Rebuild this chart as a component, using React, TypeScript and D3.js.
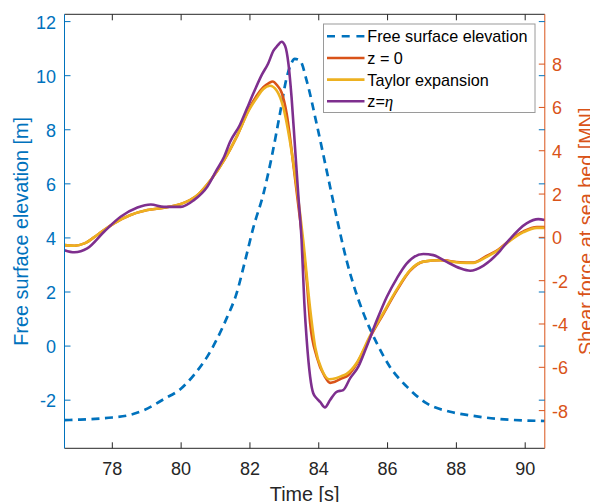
import React from "react";
import * as d3 from "d3";

// ---------- data ----------
const etaTime = [76.61, 77.0, 77.5, 78.0, 78.5, 78.92, 79.5, 80.0, 80.37, 80.76, 81.05, 81.34, 81.6, 81.86, 82.1, 82.39, 82.63, 82.87, 83.07, 83.2, 83.3, 83.46, 83.65, 83.94, 84.23, 84.52, 84.81, 85.0, 85.3, 85.69, 86.07, 86.56, 87.14, 87.82, 88.49, 89.27, 90.0, 90.57];
const etaValue = [-2.74, -2.72, -2.69, -2.64, -2.55, -2.37, -1.96, -1.57, -1.07, -0.39, 0.28, 1.08, 1.9, 3.16, 4.39, 5.62, 6.98, 8.58, 9.94, 10.45, 10.62, 10.55, 9.81, 8.21, 6.49, 4.76, 3.16, 2.31, 1.21, 0.1, -0.77, -1.5, -2.12, -2.43, -2.58, -2.7, -2.75, -2.77];

const z0Time = [76.61, 76.9, 77.19, 77.56, 78.05, 78.53, 79.02, 79.5, 79.99, 80.47, 80.86, 81.25, 81.63, 81.98, 82.2, 82.39, 82.55, 82.66, 82.8, 82.92, 83.07, 83.26, 83.46, 83.55, 83.65, 83.75, 83.94, 84.18, 84.33, 84.47, 84.67, 84.85, 85.1, 85.49, 85.88, 86.27, 86.65, 87.04, 87.53, 88.11, 88.49, 88.88, 89.27, 89.46, 89.95, 90.34, 90.57];
const z0Value = [-0.36, -0.39, -0.28, 0.11, 0.65, 1.03, 1.26, 1.37, 1.54, 1.95, 2.65, 3.57, 4.7, 5.95, 6.55, 6.93, 7.12, 7.2, 7.0, 6.69, 5.69, 3.38, 0.77, -0.5, -2.0, -3.97, -5.51, -6.44, -6.72, -6.67, -6.51, -6.38, -5.85, -4.62, -3.53, -2.45, -1.55, -1.12, -1.05, -1.15, -1.16, -0.86, -0.5, -0.25, 0.28, 0.48, 0.48];

const taylorTime = [76.61, 76.9, 77.19, 77.56, 78.05, 78.53, 79.02, 79.5, 79.99, 80.47, 80.86, 81.25, 81.63, 81.98, 82.2, 82.39, 82.58, 82.78, 82.97, 83.16, 83.36, 83.55, 83.75, 83.9, 84.1, 84.3, 84.5, 84.67, 84.81, 85.1, 85.49, 85.88, 86.27, 86.65, 87.04, 87.53, 88.11, 88.49, 88.88, 89.27, 89.46, 89.95, 90.34, 90.57];
const taylorValue = [-0.36, -0.39, -0.28, 0.11, 0.65, 1.03, 1.26, 1.37, 1.54, 1.95, 2.65, 3.57, 4.7, 5.9, 6.45, 6.85, 7.0, 6.77, 6.0, 4.46, 2.31, -0.16, -3.3, -5.1, -6.15, -6.55, -6.5, -6.4, -6.3, -5.8, -4.55, -3.48, -2.4, -1.52, -1.12, -1.06, -1.17, -1.18, -0.9, -0.53, -0.28, 0.24, 0.44, 0.44];

const etaZTime = [76.61, 76.9, 77.27, 77.76, 78.24, 78.73, 79.12, 79.5, 79.99, 80.37, 80.76, 81.03, 81.25, 81.42, 81.71, 81.9, 82.1, 82.34, 82.53, 82.68, 82.8, 82.92, 83.02, 83.12, 83.21, 83.31, 83.41, 83.5, 83.58, 83.65, 83.75, 83.84, 83.95, 84.04, 84.18, 84.33, 84.52, 84.71, 84.91, 85.15, 85.39, 85.69, 85.98, 86.27, 86.56, 87.04, 87.33, 87.72, 88.11, 88.4, 88.79, 89.27, 89.46, 90.04, 90.38, 90.57];
const etaZValue = [-0.59, -0.69, -0.51, 0.26, 0.95, 1.38, 1.52, 1.41, 1.41, 1.72, 2.34, 3.1, 3.72, 4.4, 5.2, 5.9, 6.65, 7.49, 8.03, 8.61, 8.85, 9.03, 8.85, 8.0, 6.46, 4.16, 1.85, -0.1, -3.0, -4.74, -6.44, -7.2, -7.45, -7.6, -7.85, -7.51, -7.13, -7.05, -6.51, -5.97, -5.05, -3.82, -2.74, -1.89, -1.2, -0.77, -0.82, -1.13, -1.43, -1.54, -1.3, -0.62, -0.25, 0.65, 0.84, 0.8];

const xTicks = [78, 80, 82, 84, 86, 88, 90];
const leftTicks = [-2, 0, 2, 4, 6, 8, 10, 12];
const rightTicks = [-8, -6, -4, -2, 0, 2, 4, 6, 8];

const legendLabels = ["Free surface elevation", "z = 0", "Taylor expansion", "z="];

// ---------- styles ----------
const BLUE = "#0072BD";
const ORANGE = "#D95319";
const YELLOW = "#EDB120";
const PURPLE = "#7E2F8E";
const DARK = "#262626";
const FONT = "'Liberation Sans', Arial, Helvetica, sans-serif";

const L = 64.5, R = 544.8, T = 14.3, B = 448.3;

export default function App() {
  const x = d3.scaleLinear().domain([76.61, 90.57]).range([L, R]);
  const yL = d3.scaleLinear().domain([-3.78, 12.27]).range([B, T]);
  const yR = d3.scaleLinear().domain([-9.74, 10.3]).range([B, T]);

  const mk = (ts: number[], vs: number[], y: d3.ScaleLinear<number, number>) =>
    d3
      .line<number>()
      .x((_, i) => x(ts[i]))
      .y((v) => y(v))
      .curve(d3.curveMonotoneX)(vs) || "";

  const etaPath = mk(etaTime, etaValue, yL);
  const z0Path = mk(z0Time, z0Value, yR);
  const taylorPath = mk(taylorTime, taylorValue, yR);
  const etaZPath = mk(etaZTime, etaZValue, yR);

  const tk = 6;
  const legendRows = [36.3, 58, 79.6, 101.3];
  const legendColors = [BLUE, ORANGE, YELLOW, PURPLE];

  return (
    <svg
      width={590}
      height={502}
      style={{ position: "absolute", left: 0, top: 0, display: "block", background: "#fff" }}
      fontFamily={FONT}
    >
      <rect x={0} y={0} width={590} height={502} fill="#fff" />
      <defs>
        <clipPath id="plotclip">
          <rect x={L} y={T} width={R - L} height={B - T} />
        </clipPath>
      </defs>

      <g clipPath="url(#plotclip)" fill="none" strokeLinejoin="round">
        <path d={etaPath} stroke={BLUE} strokeWidth={2.7} strokeDasharray="8,5.5" />
        <path d={z0Path} stroke={ORANGE} strokeWidth={2.6} />
        <path d={taylorPath} stroke={YELLOW} strokeWidth={2.6} />
        <path d={etaZPath} stroke={PURPLE} strokeWidth={2.6} />
      </g>

      {/* axes box */}
      <line x1={L} x2={R} y1={T} y2={T} stroke={DARK} strokeWidth={1} />
      <line x1={L} x2={R} y1={B} y2={B} stroke={DARK} strokeWidth={1} />
      <line x1={L} x2={L} y1={T} y2={B} stroke={BLUE} strokeWidth={1} />
      <line x1={R} x2={R} y1={T} y2={B} stroke={ORANGE} strokeWidth={1} />

      {/* x ticks */}
      {xTicks.map((t) => (
        <g key={"x" + t}>
          <line x1={x(t)} x2={x(t)} y1={B} y2={B - tk} stroke={DARK} />
          <line x1={x(t)} x2={x(t)} y1={T} y2={T + tk} stroke={DARK} />
          <text x={x(t)} y={475} textAnchor="middle" fontSize={18} fill={DARK}>
            {t}
          </text>
        </g>
      ))}

      {/* left ticks */}
      {leftTicks.map((t) => (
        <g key={"l" + t}>
          <line x1={L} x2={L + tk} y1={yL(t)} y2={yL(t)} stroke={BLUE} />
          <line x1={R} x2={R - tk} y1={yL(t)} y2={yL(t)} stroke={BLUE} />
          <text x={56} y={yL(t) + 7} textAnchor="end" fontSize={18} fill={BLUE}>
            {t}
          </text>
        </g>
      ))}

      {/* right ticks */}
      {rightTicks.map((t) => (
        <g key={"r" + t}>
          <line x1={R} x2={R - tk} y1={yR(t)} y2={yR(t)} stroke={ORANGE} />
          <text x={552} y={yR(t) + 7} textAnchor="start" fontSize={18} fill={ORANGE}>
            {t}
          </text>
        </g>
      ))}

      {/* axis labels */}
      <text x={(L + R) / 2} y={501} textAnchor="middle" fontSize={19.8} fill={DARK}>
        Time [s]
      </text>
      <text
        transform={`translate(28,${(T + B) / 2}) rotate(-90)`}
        textAnchor="middle"
        fontSize={19.8}
        fill={BLUE}
      >
        Free surface elevation [m]
      </text>
      <text
        transform={`translate(592.5,${(T + B) / 2}) rotate(-90)`}
        textAnchor="middle"
        fontSize={19.8}
        fill={ORANGE}
      >
        Shear force at sea bed [MN]
      </text>

      {/* legend */}
      <rect x={323.5} y={24} width={211.5} height={88.5} fill="#fff" stroke="#9a9a9a" strokeWidth={1} />
      {legendLabels.map((lab, i) => (
        <g key={"lg" + i}>
          <line
            x1={327}
            x2={364.5}
            y1={legendRows[i]}
            y2={legendRows[i]}
            stroke={legendColors[i]}
            strokeWidth={2.6}
            strokeDasharray={i === 0 ? "8,6.7" : undefined}
          />
          <text x={367.3} y={legendRows[i] + 6} fontSize={16.2} fill="#000">
            {lab}
            {i === 3 ? (
              <tspan fontFamily="'Liberation Serif', 'DejaVu Serif', serif" fontStyle="italic" fontSize={17}>
                η
              </tspan>
            ) : null}
          </text>
        </g>
      ))}
    </svg>
  );
}
